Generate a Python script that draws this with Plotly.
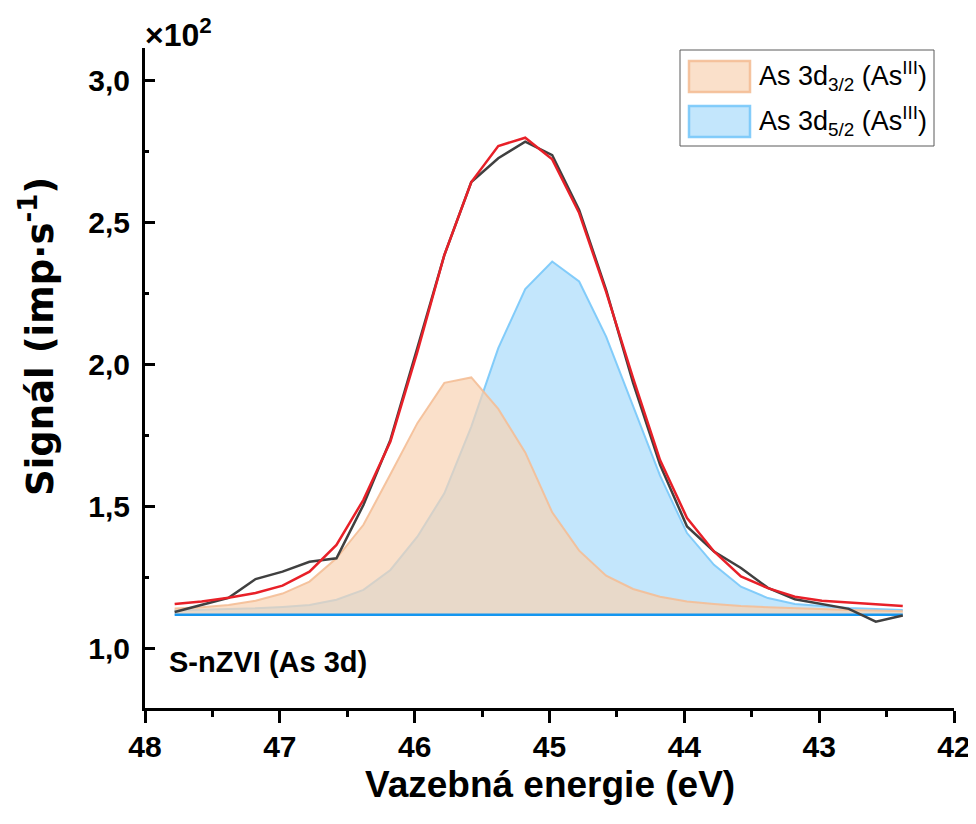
import plotly.graph_objects as go

# Binding energy (eV)
energy = [47.78, 47.58, 47.38, 47.18, 46.98, 46.78, 46.58, 46.38, 46.18, 45.98,
          45.78, 45.58, 45.38, 45.18, 44.98, 44.78, 44.58, 44.38, 44.18, 43.98,
          43.78, 43.58, 43.38, 43.18, 42.98, 42.78, 42.58, 42.38]

# Signal in units of x10^2 imp/s
measured = [1.130, 1.155, 1.180, 1.246, 1.272, 1.307, 1.319, 1.507, 1.736, 2.060,
            2.387, 2.644, 2.728, 2.786, 2.739, 2.546, 2.264, 1.937, 1.648, 1.431,
            1.343, 1.285, 1.215, 1.175, 1.157, 1.141, 1.096, 1.118]

envelope = [1.158, 1.167, 1.180, 1.197, 1.223, 1.272, 1.366, 1.525, 1.730, 2.046,
            2.387, 2.644, 2.771, 2.800, 2.724, 2.535, 2.257, 1.954, 1.665, 1.461,
            1.343, 1.255, 1.214, 1.184, 1.170, 1.163, 1.157, 1.151]

as3d32 = [1.142, 1.147, 1.155, 1.170, 1.195, 1.237, 1.319, 1.437, 1.615, 1.795,
          1.937, 1.956, 1.845, 1.692, 1.481, 1.346, 1.258, 1.211, 1.184, 1.167,
          1.158, 1.151, 1.147, 1.143, 1.140, 1.137, 1.135, 1.133]

as3d52 = [1.135, 1.137, 1.140, 1.143, 1.148, 1.155, 1.173, 1.208, 1.278, 1.395,
          1.548, 1.783, 2.059, 2.267, 2.364, 2.294, 2.100, 1.852, 1.610, 1.408,
          1.296, 1.219, 1.179, 1.158, 1.150, 1.144, 1.141, 1.137]

background = [1.12] * len(energy)

legend_labels = ["As 3d<sub>3/2</sub> (As<sup>III</sup>)",
                 "As 3d<sub>5/2</sub> (As<sup>III</sup>)"]

FONT = "Liberation Sans, Arial, sans-serif"
WIDE = "DejaVu Sans, Liberation Sans, sans-serif"

ORANGE_FILL = "rgba(248,211,179,0.7)"
ORANGE_LINE = "rgba(244,190,150,0.9)"
BLUE_FILL = "rgba(135,206,250,0.5)"
BLUE_LINE = "rgba(120,200,250,0.9)"

# the page body has an 8 px margin: positions below are page pixels
OFF = 8
FW, FH = 976, 824
L, R, T, B = 145 - OFF, 954 - OFF, 48 - OFF, 708 - OFF
W, H = R - L, B - T


def px(xp):
    return (xp - OFF - L) / W


def py(yp):
    return (B - (yp - OFF)) / H


fig = go.Figure()

# blue component (filled to background)
fig.add_trace(go.Scatter(x=energy, y=background, mode="lines",
                         line=dict(width=0, color="rgba(0,0,0,0)"),
                         showlegend=False, hoverinfo="skip"))
fig.add_trace(go.Scatter(x=energy, y=as3d52, mode="lines", name=legend_labels[1],
                         fill="tonexty", fillcolor=BLUE_FILL,
                         line=dict(color=BLUE_LINE, width=2), showlegend=False))

# orange component (filled to background)
fig.add_trace(go.Scatter(x=energy, y=background, mode="lines",
                         line=dict(width=0, color="rgba(0,0,0,0)"),
                         showlegend=False, hoverinfo="skip"))
fig.add_trace(go.Scatter(x=energy, y=as3d32, mode="lines", name=legend_labels[0],
                         fill="tonexty", fillcolor=ORANGE_FILL,
                         line=dict(color=ORANGE_LINE, width=2), showlegend=False))

# background line
fig.add_trace(go.Scatter(x=energy, y=background, mode="lines",
                         line=dict(color="rgb(20,150,240)", width=2.5),
                         showlegend=False))

# measured data
fig.add_trace(go.Scatter(x=energy, y=measured, mode="lines",
                         line=dict(color="rgb(64,64,64)", width=2.5),
                         showlegend=False))

# fit envelope
fig.add_trace(go.Scatter(x=energy, y=envelope, mode="lines",
                         line=dict(color="rgb(232,32,40)", width=2.5),
                         showlegend=False))

fig.update_layout(
    width=FW, height=FH,
    margin=dict(l=L, r=FW - R, t=T, b=FH - B),
    paper_bgcolor="white", plot_bgcolor="white",
    separators=", ",
    font=dict(family=FONT, color="black"),
    showlegend=False,
    xaxis=dict(range=[48, 42], tick0=42, dtick=1, automargin=False,
               showline=True, linecolor="black", linewidth=3,
               ticks="outside", ticklen=12, tickwidth=3, tickcolor="black",
               minor=dict(ticks="outside", ticklen=6, tickwidth=3, dtick=0.5,
                          tickcolor="black"),
               showgrid=False, zeroline=False, mirror=False,
               ticklabelstandoff=-2,
               tickfont=dict(size=30, family=FONT, weight="bold")),
    yaxis=dict(range=[0.792, 3.116], tick0=1.0, dtick=0.5, tickformat=".1f",
               automargin=False,
               showline=True, linecolor="black", linewidth=3,
               ticks="inside", ticklen=10, tickwidth=3, tickcolor="black",
               minor=dict(ticks="inside", ticklen=4, tickwidth=3, dtick=0.25,
                          tickcolor="black"),
               showgrid=False, zeroline=False, mirror=False,
               ticklabelstandoff=6,
               tickfont=dict(size=30, family=FONT, weight="bold")),
)

# axis titles
fig.add_annotation(text="Vazebná energie (eV)", xref="paper", yref="paper",
                   x=px(550), y=py(784), xanchor="center", yanchor="middle",
                   showarrow=False,
                   font=dict(size=37, family=FONT, weight="bold", color="black"))
fig.add_annotation(text="Signál (imp·s<sup>-1</sup>)", xref="paper", yref="paper",
                   x=px(37), y=py(337), xanchor="center", yanchor="middle",
                   textangle=-90, showarrow=False,
                   font=dict(size=37, family=WIDE, weight="bold", color="black"))

fig.add_annotation(text="S-nZVI (As 3d)", xref="paper", yref="paper",
                   x=px(167), y=py(662),
                   xanchor="left", yanchor="middle", showarrow=False,
                   font=dict(size=29, family=FONT, weight="bold", color="black"))

fig.add_annotation(text="×10<sup>2</sup>", xref="paper", yref="paper",
                   x=px(143), y=py(33),
                   xanchor="left", yanchor="middle", showarrow=False,
                   font=dict(size=32, family=FONT, weight="bold", color="black"))

# custom legend box
fig.add_shape(type="rect", xref="paper", yref="paper",
              x0=px(680), x1=px(934), y0=py(146), y1=py(50),
              line=dict(color="rgb(90,90,90)", width=1), fillcolor="white",
              layer="above")
swatches = [(ORANGE_FILL, ORANGE_LINE, 61, 92, 76),
            (BLUE_FILL, BLUE_LINE, 106, 137, 121)]
for (fc, lc, y0, y1, yc), lab in zip(swatches, legend_labels):
    fig.add_shape(type="rect", xref="paper", yref="paper",
                  x0=px(689), x1=px(750), y0=py(y1), y1=py(y0),
                  line=dict(color=lc, width=2.5), fillcolor=fc, layer="above")
    fig.add_annotation(text=lab, xref="paper", yref="paper",
                       x=px(757), y=py(yc), xanchor="left", yanchor="middle",
                       showarrow=False,
                       font=dict(size=27, family=FONT, color="black"))

fig.write_html("out.html")
